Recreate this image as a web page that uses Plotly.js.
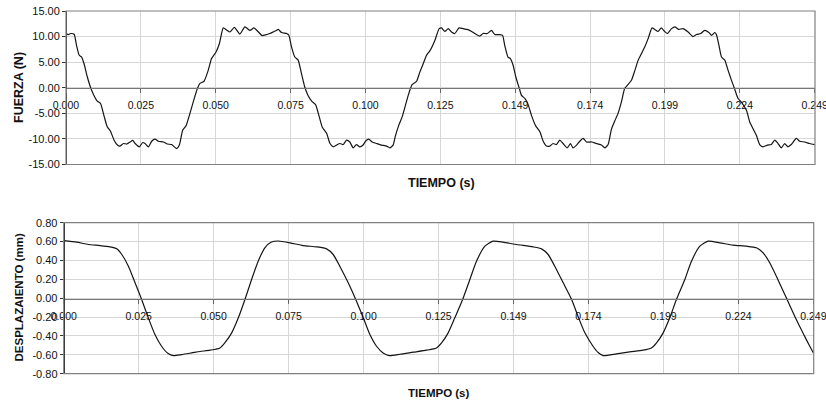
<!DOCTYPE html>
<html>
<head>
<meta charset="utf-8">
<script src="https://cdn.plot.ly/plotly-3.0.1.min.js"></script>
<style>html,body{margin:0;padding:0;background:#fff;}#chart{width:826px;height:402px;}</style>
</head>
<body>
<div id="chart"></div>
<script>
// ---- data ----
var forceTime = [0,0.0008,0.0016,0.0027,0.0035,0.0044,0.0052,0.0060,0.0071,0.0082,0.0093,0.0104,0.0115,0.0126,0.0137,0.0148,0.0160,0.0171,0.0180,0.0191,0.0202,0.0213,0.0222,0.0230,0.0244,0.0255,0.0263,0.0274,0.0285,0.0296,0.0307,0.0324,0.0337,0.0351,0.0368,0.0377,0.0388,0.0399,0.0412,0.0423,0.0437,0.0445,0.0459,0.0473,0.0484,0.0499,0.0510,0.0523,
 0.0534,0.0545,0.0560,0.0578,0.0595,0.0612,0.0625,0.0640,0.0652,0.0661,0.0678,0.0689,0.0700,0.0706,0.0717,0.0734,0.0741,
 0.0750,0.0761,0.0772,0.0783,0.0794,0.0805,0.0817,0.0830,0.0841,0.0852,0.0867,0.0878,0.0889,
 0.0900,0.0911,0.0922,0.0933,0.0944,0.0955,0.0966,0.0977,0.0988,0.0996,0.1007,0.1018,0.1033,0.1049,0.1066,0.1077,0.1088,
 0.1096,0.1107,0.1118,0.1129,0.1140,0.1151,0.1166,0.1177,0.1188,0.1199,0.1210,0.1227,0.1241,
 0.1249,0.1260,0.1271,0.1282,0.1293,0.1307,0.1321,0.1334,0.1349,0.1365,0.1376,0.1387,0.1401,0.1415,0.1426,0.1443,0.1452,
 0.1459,0.1470,0.1478,0.1487,0.1496,0.1507,0.1515,0.1526,0.1537,0.1548,0.1562,0.1576,0.1587,0.1598,
 0.1609,0.1620,0.1631,0.1642,0.1653,0.1667,0.1678,0.1686,0.1698,0.1709,0.1720,0.1731,0.1748,0.1764,0.1781,0.1792,0.1803,
 0.1814,0.1825,0.1836,0.1847,0.1858,0.1869,0.1881,0.1892,0.1903,0.1914,0.1925,0.1936,0.1949,
 0.1958,0.1969,0.1980,0.1991,0.2000,0.2014,0.2025,0.2038,0.2052,0.2069,0.2085,0.2097,0.2111,0.2124,0.2138,0.2147,0.2158,0.2163,
 0.2171,0.2180,0.2191,0.2202,0.2213,0.2224,0.2235,0.2246,0.2263,0.2274,0.2285,0.2296,0.2307,
 0.2318,0.2333,0.2346,0.2357,0.2368,0.2379,0.2390,0.2401,0.2412,0.2429,0.2440,0.2457,0.2473,0.2490];
var forceValue = [10.6,10.4,10.6,10.45,8.3,6.35,6.0,4.7,2.1,0,-1.5,-2.6,-3.1,-5.4,-7.6,-8.5,-10.25,-11.2,-11.4,-10.9,-11.0,-10.6,-10.3,-10.9,-11.55,-10.7,-10.9,-11.55,-10.45,-10.05,-10.45,-10.6,-11.0,-11.1,-11.9,-11.2,-8.3,-7.45,-5.05,-2.8,-0.15,0.8,1.27,3.4,5.7,7.0,8.6,11.7,
 11.3,10.9,11.8,10.5,11.9,11.2,11.7,10.9,10.2,10.3,10.6,10.9,11.2,11.4,10.8,10.6,10.25,
 8.0,6.0,5.4,2.8,0.15,-1.5,-2.6,-3.3,-5.4,-7.65,-8.95,-10.9,-11.55,
 -11.2,-10.9,-11.1,-10.25,-10.6,-11.75,-11.1,-11.55,-11.2,-10.45,-10.05,-10.6,-10.9,-11.2,-11.4,-11.75,-11.2,
 -9.3,-7.3,-5.7,-3.4,-1.15,0.6,1.27,3.1,4.7,6.35,7.2,9.3,11.55,
 11.7,11.0,11.55,10.9,10.6,11.7,11.55,11.4,11.0,10.4,10.1,10.6,10.6,11.2,10.4,10.4,10.25,
 8.3,6.0,5.7,4.4,2.1,0,-1.5,-2.1,-3.3,-5.4,-7.45,-8.6,-10.45,-11.4,
 -11.4,-10.9,-11.1,-10.25,-10.9,-11.75,-10.9,-11.75,-11.2,-10.45,-9.9,-10.6,-10.6,-10.9,-11.2,-11.75,-11.1,
 -8.1,-6.5,-5.0,-2.8,-0.15,0.6,1.5,3.4,5.4,6.7,8.0,9.6,11.7,
 11.4,11.0,11.7,11.0,10.6,11.55,11.9,11.4,11.55,10.9,10.0,10.4,10.6,11.2,10.8,10.25,10.8,10.4,
 8.45,6.0,5.4,3.4,1.5,-0.3,-2.1,-2.8,-4.4,-6.7,-8.0,-9.3,-11.1,
 -11.55,-11.2,-11.1,-10.25,-10.9,-11.75,-10.9,-11.55,-11.1,-9.9,-10.45,-10.6,-10.9,-11.1];

var dispTime = [0,0.0043,0.0082,0.0121,0.0154,0.0176,0.0193,0.0215,0.0237,0.0259,0.0281,0.0303,0.0325,0.0347,0.0364,0.0392,0.0425,0.0453,0.0486,0.0519,0.0535,0.0558,0.0580,0.0602,0.0624,0.0646,0.0668,0.0690,0.0712,0.0752,0.0795,0.0840,0.0873,0.0895,0.0917,0.0945,0.0970,0.0995,0.1017,0.1039,0.1061,0.1081,0.1117,0.1161,0.1205,0.1238,0.1255,0.1277,0.1299,0.1325,0.1349,0.1371,0.1399,0.1426,0.1459,0.1504,0.1559,0.1587,0.1609,0.1631,0.1659,0.1687,0.1708,0.1731,0.1758,0.1775,0.1792,0.1836,0.1880,0.1924,0.1952,0.1969,0.1991,0.2013,0.2035,0.2063,0.2085,0.2113,0.2140,0.2179,0.2223,0.2268,0.2301,0.2323,0.2345,0.2372,0.2400,0.2428,0.2455,0.2478,0.2490];
var dispValue = [0.611,0.594,0.569,0.558,0.544,0.523,0.463,0.339,0.163,-0.014,-0.208,-0.385,-0.509,-0.587,-0.608,-0.597,-0.580,-0.565,-0.551,-0.527,-0.473,-0.367,-0.208,-0.014,0.198,0.392,0.534,0.595,0.606,0.587,0.558,0.544,0.523,0.463,0.339,0.163,-0.014,-0.208,-0.385,-0.509,-0.580,-0.608,-0.594,-0.572,-0.551,-0.527,-0.473,-0.367,-0.208,-0.014,0.198,0.392,0.551,0.604,0.594,0.569,0.544,0.523,0.463,0.339,0.163,-0.014,-0.191,-0.367,-0.509,-0.575,-0.608,-0.590,-0.569,-0.551,-0.527,-0.473,-0.367,-0.208,-0.014,0.198,0.392,0.551,0.604,0.587,0.562,0.551,0.534,0.481,0.375,0.198,0.004,-0.191,-0.367,-0.509,-0.580];

var xTickVals = [0,0.0249,0.0498,0.0747,0.0996,0.1245,0.1494,0.1743,0.1992,0.2241,0.249];
var xTickText = ['0.000','0.025','0.050','0.075','0.100','0.125','0.149','0.174','0.199','0.224','0.249'];
var forceTickVals = [-15,-10,-5,0,5,10,15];
var forceTickText = ['-15.00','-10.00','-5.00','0.00','5.00','10.00','15.00'];
var dispTickVals = [-0.8,-0.6,-0.4,-0.2,0,0.2,0.4,0.6,0.8];
var dispTickText = ['-0.80','-0.60','-0.40','-0.20','0.00','0.20','0.40','0.60','0.80'];

var FONT = 'Liberation Sans, Arial, sans-serif';
var W = 826, H = 402;
// plot areas in pixels
var areaTop = {l:66, r:815, t:11, b:164.5};
var areaBot = {l:63.7, r:813.7, t:222.7, b:373.7};
function px(x){return x/W;}
function py(y){return 1 - y/H;}

var traces = [
  {x: forceTime, y: forceValue, xaxis:'x', yaxis:'y', type:'scatter', mode:'lines',
   line:{color:'#151515', width:1.2, shape:'spline', smoothing:0.5}, hoverinfo:'skip', cliponaxis:true},
  {x: dispTime, y: dispValue, xaxis:'x2', yaxis:'y2', type:'scatter', mode:'lines',
   line:{color:'#151515', width:1.2, shape:'spline', smoothing:0.6}, hoverinfo:'skip', cliponaxis:true}
];

function xAx(p, zeroPos){
  return {domain:[px(p.l), px(p.r)], anchor:'free', position:zeroPos,
    range:[0,0.2491], tickmode:'array', tickvals:xTickVals, ticktext:xTickText,
    ticks:'outside', ticklen:4, tickcolor:'#666', tickwidth:1,
    showline:true, linecolor:'#777', linewidth:1.5,
    showgrid:true, gridcolor:'#d6d6d6', gridwidth:1, zeroline:false,
    ticklabelstandoff:3, ticklabeloverflow:'allow',
    tickfont:{family:FONT, size:10.5, color:'#111'}, fixedrange:true};
}
function yAx(p, rng, tv, tt){
  return {domain:[py(p.b), py(p.t)], anchor:'free', position:px(p.l), range:rng,
    tickmode:'array', tickvals:tv, ticktext:tt,
    ticks:'outside', ticklen:4, tickcolor:'#333', showline:true, linecolor:'#222', linewidth:1,
    showgrid:true, gridcolor:'#d6d6d6', gridwidth:1, zeroline:false,
    tickfont:{family:FONT, size:11, color:'#111'}, fixedrange:true};
}

var layout = {
  width:W, height:H, margin:{l:0,r:0,t:0,b:0}, showlegend:false,
  paper_bgcolor:'#fff', plot_bgcolor:'#fff',
  xaxis: xAx(areaTop, py(87.5)),
  yaxis: yAx(areaTop, [-15,15], forceTickVals, forceTickText),
  xaxis2: xAx(areaBot, py(298.7)),
  yaxis2: yAx(areaBot, [-0.8,0.8], dispTickVals, dispTickText),
  shapes:[
    {type:'rect', xref:'paper', yref:'paper', x0:px(areaTop.l), x1:px(areaTop.r), y0:py(areaTop.b), y1:py(areaTop.t),
     line:{color:'#808080', width:1.2}, layer:'above'},
    {type:'rect', xref:'paper', yref:'paper', x0:px(areaBot.l), x1:px(areaBot.r), y0:py(areaBot.b), y1:py(areaBot.t),
     line:{color:'#808080', width:1.2}, layer:'above'}
  ],
  annotations:[
    {text:'<b>FUERZA (N)</b>', xref:'paper', yref:'paper', x:px(19), y:py(88), textangle:-90,
     showarrow:false, xanchor:'center', yanchor:'middle', font:{family:FONT, size:12.5, color:'#111'}},
    {text:'<b>DESPLAZAIENTO (mm)</b>', xref:'paper', yref:'paper', x:px(18.5), y:py(298), textangle:-90,
     showarrow:false, xanchor:'center', yanchor:'middle', font:{family:FONT, size:11.5, color:'#111'}},
    {text:'<b>TIEMPO (s)</b>', xref:'paper', yref:'paper', x:px(441), y:py(183), showarrow:false,
     xanchor:'center', yanchor:'middle', font:{family:FONT, size:12.5, color:'#111'}},
    {text:'<b>TIEMPO (s)</b>', xref:'paper', yref:'paper', x:px(439.5), y:py(392.5), showarrow:false,
     xanchor:'center', yanchor:'middle', font:{family:FONT, size:11.5, color:'#111'}}
  ]
};
Plotly.newPlot('chart', traces, layout, {displayModeBar:false, staticPlot:true});
</script>
</body>
</html>
